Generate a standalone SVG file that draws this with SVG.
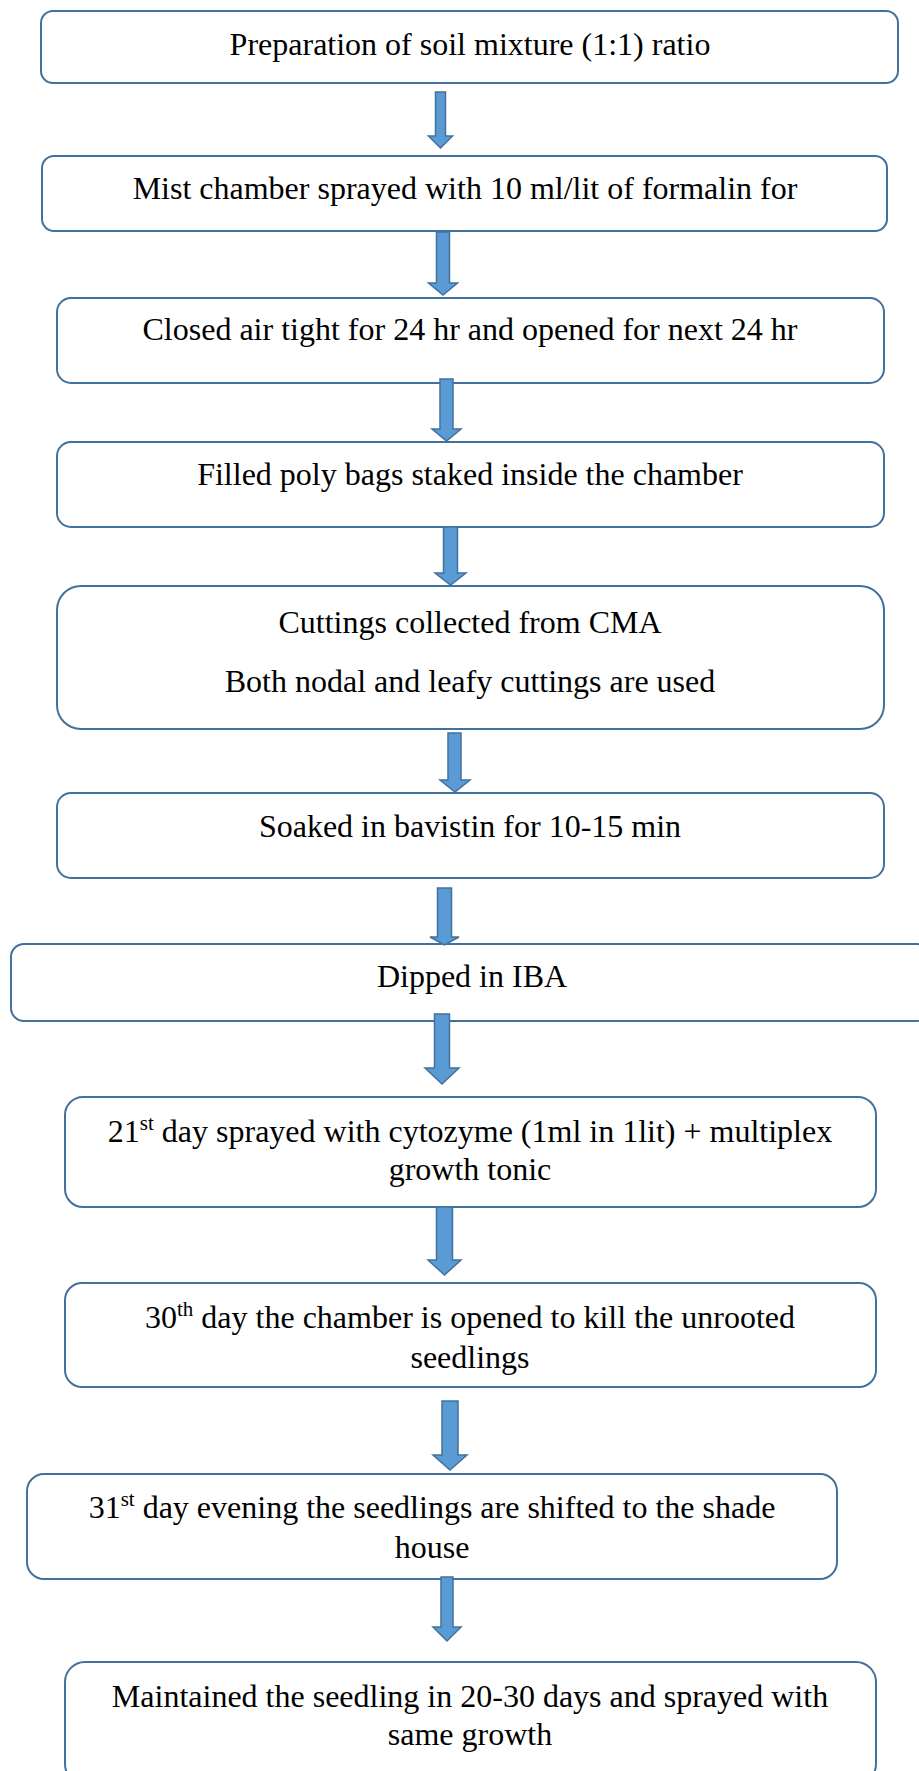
<svg xmlns="http://www.w3.org/2000/svg" width="919" height="1771" viewBox="0 0 919 1771">
  <style>
    .box { fill: #ffffff; stroke: #41719C; stroke-width: 2; }
    .lbl { font-family: "Liberation Serif", "Times New Roman", serif; font-size: 32px; fill: #000000; text-anchor: middle; }
    .sup { font-size: 21px; }
    .arrow { fill: #5B9BD5; stroke: #41719C; stroke-width: 1.5; stroke-linejoin: miter; }
  </style>
  <rect x="0" y="0" width="919" height="1771" fill="#ffffff"/>

  <!-- process steps -->
  <g id="step1">
    <rect class="box" x="41" y="11" width="857" height="72" rx="12"/>
    <text class="lbl" x="470" y="55">Preparation of soil mixture (1:1) ratio</text>
  </g>
  <g id="step2">
    <rect class="box" x="42" y="156" width="845" height="75" rx="12"/>
    <text class="lbl" x="465" y="199">Mist chamber sprayed with 10 ml/lit of formalin for</text>
  </g>
  <g id="step3">
    <rect class="box" x="57" y="298" width="827" height="85" rx="14"/>
    <text class="lbl" x="470" y="340">Closed air tight for 24 hr and opened for next 24 hr</text>
  </g>
  <g id="step4">
    <rect class="box" x="57" y="442" width="827" height="85" rx="14"/>
    <text class="lbl" x="470" y="485">Filled poly bags staked inside the chamber</text>
  </g>
  <g id="step5">
    <rect class="box" x="57" y="586" width="827" height="143" rx="24"/>
    <text class="lbl" x="470" y="633">Cuttings collected from CMA</text>
    <text class="lbl" x="470" y="692">Both nodal and leafy cuttings are used</text>
  </g>
  <g id="step6">
    <rect class="box" x="57" y="793" width="827" height="85" rx="14"/>
    <text class="lbl" x="470" y="837">Soaked in bavistin for 10-15 min</text>
  </g>
  <g id="step7">
    <rect class="box" x="11" y="944" width="919" height="77" rx="13"/>
    <text class="lbl" x="472" y="987">Dipped in IBA</text>
  </g>
  <g id="step8">
    <rect class="box" x="65" y="1097" width="811" height="110" rx="18"/>
    <text class="lbl" x="470" y="1142">21<tspan class="sup" dy="-12">st</tspan><tspan dy="12"> day sprayed with cytozyme (1ml in 1lit) + multiplex</tspan></text>
    <text class="lbl" x="470" y="1180">growth tonic</text>
  </g>
  <g id="step9">
    <rect class="box" x="65" y="1283" width="811" height="104" rx="17"/>
    <text class="lbl" x="470" y="1328">30<tspan class="sup" dy="-12">th</tspan><tspan dy="12"> day the chamber is opened to kill the unrooted</tspan></text>
    <text class="lbl" x="470" y="1368">seedlings</text>
  </g>
  <g id="step10">
    <rect class="box" x="27" y="1474" width="810" height="105" rx="17"/>
    <text class="lbl" x="432" y="1518">31<tspan class="sup" dy="-12">st</tspan><tspan dy="12"> day evening the seedlings are shifted to the shade</tspan></text>
    <text class="lbl" x="432" y="1558">house</text>
  </g>
  <g id="step11">
    <rect class="box" x="65" y="1662" width="811" height="122" rx="20"/>
    <text class="lbl" x="470" y="1707">Maintained the seedling in 20-30 days and sprayed with</text>
    <text class="lbl" x="470" y="1745">same growth</text>
  </g>

  <!-- block arrows between steps -->
  <g id="connectors">
    <polygon class="arrow" points="435.5,92 445.5,92 445.5,136 452.5,136 440.5,148 428.5,136 435.5,136"/>
    <polygon class="arrow" points="436.5,232 449.5,232 449.5,283 457.5,283 443,295 428.5,283 436.5,283"/>
    <polygon class="arrow" points="440,379 453,379 453,429 461,429 446.5,441 432,429 440,429"/>
    <polygon class="arrow" points="443.5,527 457.5,527 457.5,573 466,573 450.5,585 435,573 443.5,573"/>
    <polygon class="arrow" points="448,733 461,733 461,780 470,780 455,792 440,780 448,780"/>
    <polygon class="arrow" points="437.5,888 451.5,888 451.5,937 459,937 444.5,945 430,937 437.5,937"/>
    <polygon class="arrow" points="434.5,1014 449.5,1014 449.5,1068 459,1068 442,1084 425,1068 434.5,1068"/>
    <polygon class="arrow" points="436.5,1207 452.5,1207 452.5,1260 461,1260 444.5,1275 428,1260 436.5,1260"/>
    <polygon class="arrow" points="442,1401 458,1401 458,1455 467,1455 450,1470 433,1455 442,1455"/>
    <polygon class="arrow" points="441,1577 453,1577 453,1627 461,1627 447,1641 433,1627 441,1627"/>
  </g>
</svg>
